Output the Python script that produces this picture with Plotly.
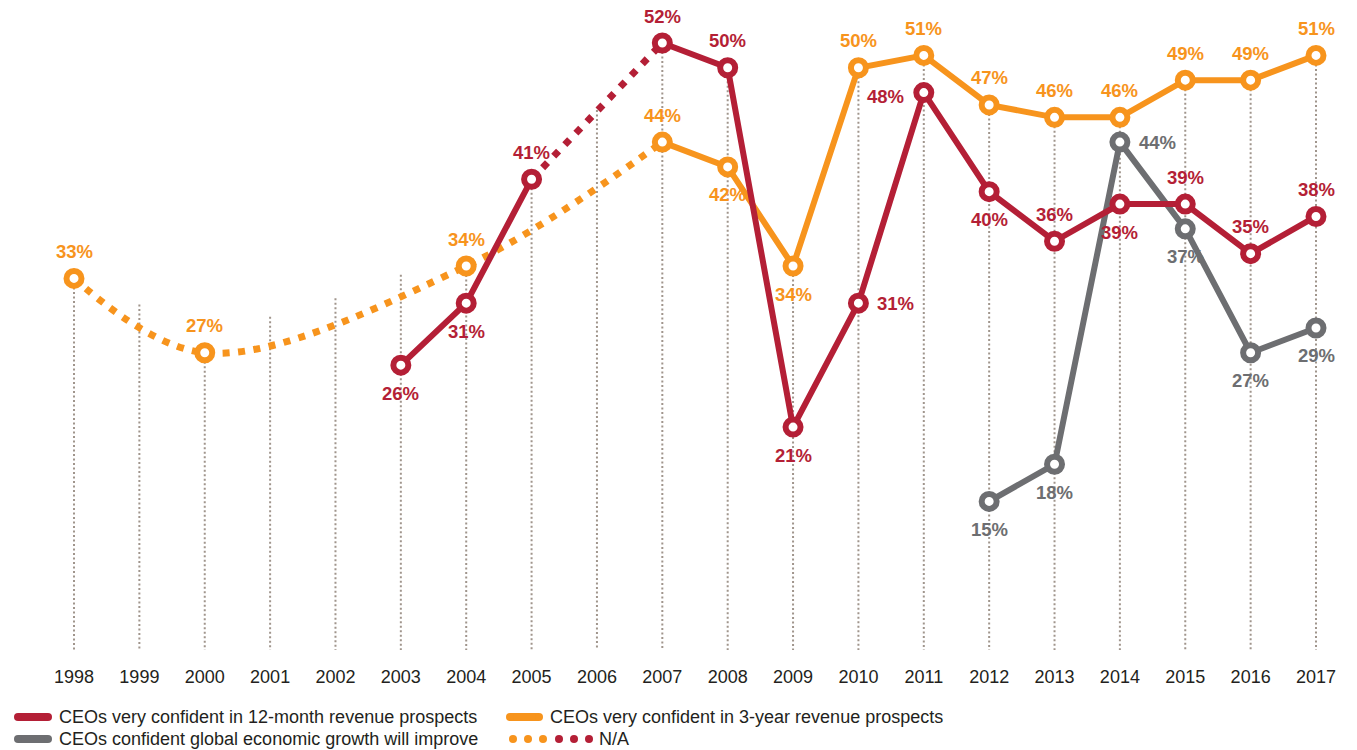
import plotly.graph_objects as go

# ---------------- data ----------------
years = list(range(1998, 2018))
year_labels = [str(y) for y in years]
rev_12m = [None, None, None, None, None, 26, 31, 41, None, 52, 50, 21, 31, 48, 40, 36, 39, 39, 35, 38]
rev_3y = [33, None, 27, None, None, None, 34, None, None, 44, 42, 34, 50, 51, 47, 46, 46, 49, 49, 51]
global_growth = [None] * 14 + [15, 18, 44, 37, 27, 29]
# top of the dotted guide line for every year
guide_top = [33, 30.9, 27, 29.9, 31.4, 33.3, 34, 41, 46.6, 52, 50, 34, 50, 51, 47, 46, 46, 49, 49, 51]

legend_names = [
    "CEOs very confident in 12-month revenue prospects",
    "CEOs very confident in 3-year revenue prospects",
    "CEOs confident global economic growth will improve",
    "N/A",
]

# label placement (style): a=above, b=below, r=right, l=left
pos_12m = [None, None, None, None, None, "b", "b", "a", None, "a", "a", "b", "r", "l", "b", "a", "b", "a", "a", "a"]
pos_3y = ["a", None, "a", None, None, None, "a", None, None, "a", "b", "b", "a", "a", "a", "a", "a", "a", "a", "a"]
pos_gl = [None] * 14 + ["b", "b", "r", "b", "b", "b"]

# ---------------- style ----------------
RED = "#B41F36"
ORANGE = "#F7941D"
GRAY = "#6D6E71"
GUIDE = "#A0958C"
TXT = "#231F20"
FONT = "Liberation Sans"

W, H = 1357, 750
PLOT_BOTTOM = 650
px_year = (1316 - 74) / 19.0
px_pct = 12.39
x_range = [1998 - 74 / px_year, 2017 + (W - 1316) / px_year]
y_top = 52 + 43 / px_pct
y_bot = 52 - (PLOT_BOTTOM - 43) / px_pct

fig = go.Figure()

# vertical dotted guides
gx, gy = [], []
for yr, top in zip(years, guide_top):
    gx += [yr, yr, None]
    gy += [top, y_bot, None]
fig.add_trace(go.Scatter(x=gx, y=gy, mode="lines",
                         line=dict(color=GUIDE, width=2, dash="2px,2.5px"),
                         hoverinfo="skip", showlegend=False))

# N/A dotted segments
na3_x = [yr for yr, v in zip(years, rev_3y) if v is not None and yr <= 2007]
na3_y = [v for yr, v in zip(years, rev_3y) if v is not None and yr <= 2007]
fig.add_trace(go.Scatter(x=na3_x, y=na3_y, mode="lines",
                         line=dict(color=ORANGE, width=7, dash="7px,8.5px", shape="spline", smoothing=1.0),
                         hoverinfo="skip", showlegend=False))
na12_x = [years[7], years[9]]
na12_y = [rev_12m[7], rev_12m[9]]
fig.add_trace(go.Scatter(x=na12_x, y=na12_y, mode="lines",
                         line=dict(color=RED, width=7, dash="7px,9px"),
                         hoverinfo="skip", showlegend=False))

marker_common = dict(symbol="circle", size=15, color="white")
MLW = 6

# gray series
fig.add_trace(go.Scatter(x=years, y=global_growth, mode="lines+markers",
                         line=dict(color=GRAY, width=6),
                         marker=dict(**marker_common, line=dict(color=GRAY, width=MLW)),
                         connectgaps=False, hoverinfo="skip", showlegend=False))

# orange solid part (2007 on) + open markers for all orange points
o_solid = [v if yr >= 2007 else None for yr, v in zip(years, rev_3y)]
fig.add_trace(go.Scatter(x=years, y=o_solid, mode="lines",
                         line=dict(color=ORANGE, width=6),
                         connectgaps=False, hoverinfo="skip", showlegend=False))
fig.add_trace(go.Scatter(x=years, y=rev_3y, mode="markers",
                         marker=dict(**marker_common, line=dict(color=ORANGE, width=MLW)),
                         hoverinfo="skip", showlegend=False))

# red series
fig.add_trace(go.Scatter(x=years, y=rev_12m, mode="lines+markers",
                         line=dict(color=RED, width=6),
                         marker=dict(**marker_common, line=dict(color=RED, width=MLW)),
                         connectgaps=False, hoverinfo="skip", showlegend=False))

# value labels
offsets = {
    "a": dict(xshift=0, yshift=27, xanchor="center"),
    "b": dict(xshift=0, yshift=-28, xanchor="center"),
    "r": dict(xshift=17, yshift=0, xanchor="left"),
    "l": dict(xshift=-18, yshift=-4, xanchor="right"),
}
annotations = []
for series, positions, col in [(rev_12m, pos_12m, RED), (rev_3y, pos_3y, ORANGE), (global_growth, pos_gl, GRAY)]:
    for yr, v, p in zip(years, series, positions):
        if v is None or p is None:
            continue
        o = offsets[p]
        annotations.append(dict(x=yr, y=v, text=f"{v}%", showarrow=False,
                                xshift=o["xshift"], yshift=o["yshift"], xanchor=o["xanchor"],
                                yanchor="middle",
                                font=dict(family=FONT, size=18.5, color=col, weight="bold")))

# ---------------- manual legend ----------------
def px_x(p):
    return p / W

def px_y(p):
    return (PLOT_BOTTOM - p) / PLOT_BOTTOM

shapes = []

def dot(xc, yp, col, r):
    shapes.append(dict(type="circle", xref="paper", yref="paper",
                       xsizemode="pixel", ysizemode="pixel",
                       xanchor=px_x(xc), yanchor=px_y(yp),
                       x0=-r, x1=r, y0=-r, y1=r,
                       fillcolor=col, line=dict(width=0)))

def pill(x0, x1, yp, col):
    shapes.append(dict(type="line", xref="paper", yref="paper", x0=px_x(x0), x1=px_x(x1),
                       y0=px_y(yp), y1=px_y(yp), line=dict(color=col, width=8)))
    for xc in (x0, x1):
        dot(xc, yp, col, 4)

ROW1, ROW2 = 717, 739
pill(18, 48, ROW1, RED)
pill(510, 539, ROW1, ORANGE)
pill(18, 48, ROW2, GRAY)
for xc, col in zip([513, 528, 543, 559, 574, 589], [ORANGE] * 3 + [RED] * 3):
    dot(xc, ROW2, col, 4)

for text, xp, yp in zip(legend_names, [57, 548, 57, 597], [ROW1, ROW1, ROW2, ROW2]):
    annotations.append(dict(xref="paper", yref="paper", x=px_x(xp), y=px_y(yp), text=text,
                            showarrow=False, xanchor="left", yanchor="middle",
                            font=dict(family=FONT, size=18, color=TXT)))

fig.update_layout(
    width=W, height=H,
    margin=dict(l=0, r=0, t=0, b=H - PLOT_BOTTOM, autoexpand=False),
    paper_bgcolor="white", plot_bgcolor="white",
    showlegend=False,
    shapes=shapes,
    annotations=annotations,
    xaxis=dict(range=x_range, tickmode="array", tickvals=years, ticktext=year_labels,
               showgrid=False, zeroline=False, showline=False, ticks="",
               ticklabelstandoff=14,
               tickfont=dict(family=FONT, size=18, color=TXT), fixedrange=True),
    yaxis=dict(range=[y_bot, y_top], visible=False, showgrid=False, zeroline=False, fixedrange=True),
)

fig.write_html("out.html", config={"displayModeBar": False},
               post_script="document.body.style.margin='0px';document.body.style.padding='0px';document.body.style.overflow='hidden';")
